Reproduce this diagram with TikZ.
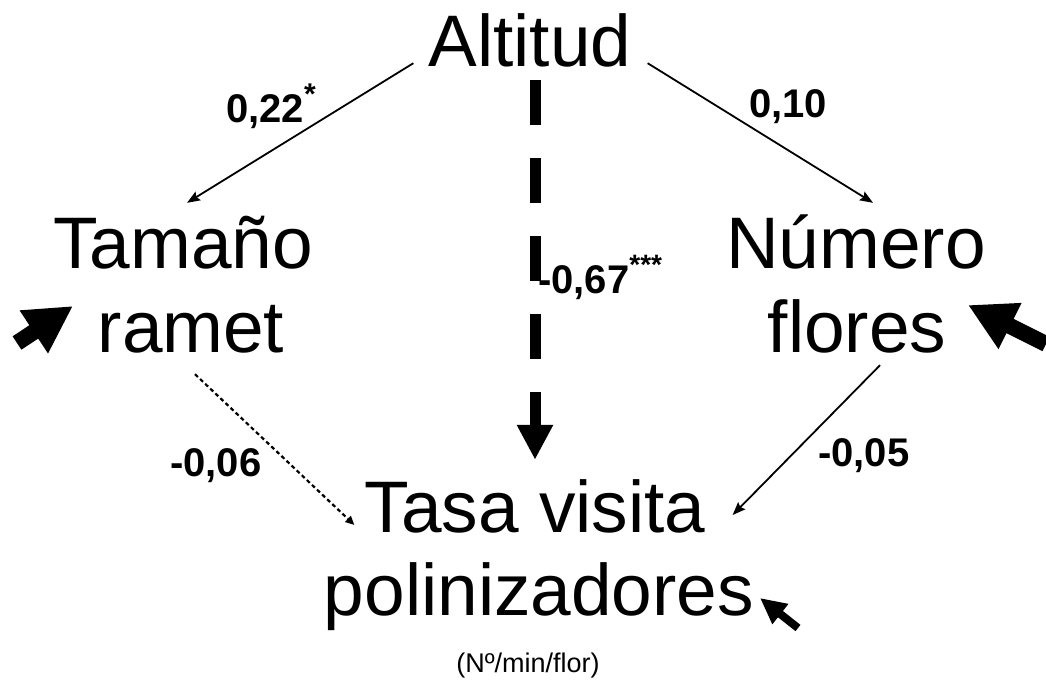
\documentclass[tikz,border=0pt]{standalone}
\usepackage{fontspec}
\setmainfont{Liberation Sans}
\usetikzlibrary{arrows.meta}
\begin{document}
\begin{tikzpicture}[x=1pt,y=-1pt,
  main/.style={inner sep=0pt, anchor=base, font=\fontsize{73}{84}\selectfont, text height=52pt, text depth=14pt},
  lab/.style={inner sep=0pt, anchor=base west, font=\fontsize{40}{44}\selectfont\bfseries},
  note/.style={inner sep=0pt, anchor=base, font=\fontsize{27}{30}\selectfont},
  thinarrow/.style={line width=1.8pt, -{Stealth[length=13pt,width=10pt,inset=2pt]}},
  dotarrow/.style={line width=2.2pt, dash pattern=on 4pt off 3pt, -{Triangle[length=9pt,width=8pt]}},
  bigdash/.style={line width=11pt, dash pattern=on 45pt off 33pt, -{Triangle[length=35pt,width=34pt]}},
  errarrow/.style={line width=16pt, -{Triangle[length=47pt,width=48pt]}},
  smallerr/.style={line width=8pt, -{Triangle[length=26pt,width=24pt]}},
]
\useasboundingbox (0,0) rectangle (1046,689);

% main nodes
\node[main] (alt) at (530,66) {Altitud};
\node[main] (tam1) at (183,268) {Tamaño};
\node[main] (tam2) at (191,352) {ramet};
\node[main] (num1) at (856,268) {Número};
\node[main] (num2) at (857,352) {flores};
\node[main] (tas1) at (535,532) {Tasa visita};
\node[main] (tas2) at (539,615) {polinizadores};
\node[note] (unit) at (528,672) {(Nº/min/flor)};

% coefficient labels
\node[lab] (l1) at (226,122) {0,22\raisebox{18pt}{\fontsize{30}{30}\selectfont *}};
\node[lab] (l2) at (749,117) {0,10};
\node[lab] (l3) at (538,293) {-0,67\raisebox{19pt}{\fontsize{28}{28}\selectfont ***}};
\node[lab] (l4) at (170,476) {-0,06};
\node[lab] (l5) at (818,466) {-0,05};

% connectors
\draw[thinarrow] ([xshift=-15pt,yshift=17pt]alt.south west) -- ([xshift=4pt,yshift=13pt]tam1.north);
\draw[thinarrow] ([xshift=16pt,yshift=17pt]alt.south east) -- ([xshift=17pt,yshift=13pt]num1.north);
\draw[bigdash] ([xshift=5pt]alt.south) -- ([yshift=20pt]tas1.north);
\draw[dotarrow] ([xshift=4pt,yshift=-8pt]tam2.south) -- ([xshift=-10pt,yshift=-12pt]tas1.west);
\draw[thinarrow] ([xshift=23pt,yshift=1pt]num2.south) -- ([xshift=27pt,yshift=-2pt]tas1.east);

% error arrows
\coordinate (e1s) at (17,343);
\coordinate (e1t) at (73,306);
\coordinate (e2s) at (1046,344);
\coordinate (e2t) at (968,305);
\coordinate (e3s) at (798,628);
\coordinate (e3t) at (760,598);
\draw[errarrow] (e1s) -- (e1t);
\draw[errarrow] (e2s) -- (e2t);
\draw[smallerr] (e3s) -- (e3t);
\end{tikzpicture}
\end{document}
